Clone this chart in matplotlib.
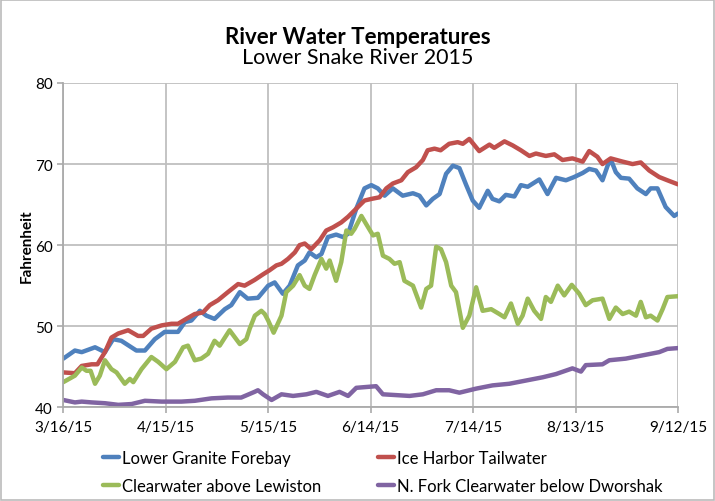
import pandas as pd
import matplotlib
matplotlib.use("Agg")
import matplotlib.pyplot as plt
import matplotlib.dates as mdates

plt.rcParams['font.family'] = ['Lato', 'DejaVu Sans']

start = pd.Timestamp('2015-03-16')

# days after 3/16/15
granite_days = [0, 3.4, 5.4, 9.3, 12.2, 14.6, 17, 21.4, 23.9, 26.8, 29.7, 33.6, 35.6, 37.5, 40, 41.9,
                44.3, 47.3, 49.2, 51.7, 54, 57, 60, 61.9, 64.3, 66.3, 68.7, 70.7, 72.1, 74.1, 75.6,
                77.5, 79.9, 81.9, 83.4, 85.8, 88.2, 90.2, 92.1, 94.1, 96.5, 99.4, 102.4, 104.3, 106.3,
                108.2, 110.2, 112.1, 114.1, 116, 118, 119.9, 121.8, 124.3, 125.7, 127.7, 129.6, 132.1,
                134, 136, 139.4, 141.8, 144.3, 147.2, 149.6, 152.1, 154, 156, 157.9, 159.4, 160.3,
                161.8, 163.3, 165.7, 168.1, 170.6, 172, 174, 176.4, 178.9, 180]
granite = [46.0, 47.0, 46.8, 47.4, 46.8, 48.4, 48.2, 47.0, 47.0, 48.4, 49.3, 49.3, 50.5, 50.7, 51.9, 51.3,
           50.9, 52.1, 52.6, 54.2, 53.4, 53.5, 55.0, 55.4, 54.0, 55.0, 57.5, 58.1, 59.1, 58.5, 58.9,
           61.0, 61.3, 61.0, 61.4, 64.5, 67.0, 67.4, 67.0, 66.1, 67.0, 66.1, 66.4, 66.1, 64.9,
           65.7, 66.3, 68.8, 69.8, 69.5, 67.4, 65.5, 64.6, 66.7, 65.7, 65.4, 66.2, 66.0,
           67.4, 67.2, 68.1, 66.3, 68.3, 68.0, 68.4, 68.9, 69.4, 69.2, 68.0, 69.8, 70.6,
           69.0, 68.3, 68.2, 67.0, 66.3, 67.0, 67.0, 64.7, 63.6, 63.9]

harbor_days = [0, 3.4, 5.4, 8.3, 10, 12.2, 14.1, 16.1, 19, 21.9, 23.4, 25.8, 28.8, 31.7, 33.6, 36, 38.5,
               40.9, 42.9, 45.3, 48.2, 51.2, 53.1, 56, 58.5, 60.4, 62.4, 63.9, 65.8, 67.8, 69.2, 70.7,
               72.6, 75.1, 77, 79, 81.4, 83.4, 85.8, 88.2, 90.2, 92.6, 94.6, 96.5, 99, 100.9, 103.3,
               105.3, 106.7, 108.7, 110.5, 113, 115.5, 117, 118.9, 121.8, 124.8, 126.2, 129.2, 131.6,
               134, 136.5, 138.4, 141.3, 143.8, 146.2, 149.1, 152.1, 154, 156.4, 157.9, 160.3, 163.8,
               166.7, 169.1, 171.6, 174.5, 176.9, 180]
harbor = [44.3, 44.2, 45.1, 45.3, 45.3, 46.8, 48.6, 49.1, 49.5, 48.8, 48.8, 49.7, 50.1, 50.3, 50.3, 50.9, 51.5,
          51.7, 52.6, 53.2, 54.2, 55.2, 55.0, 55.7, 56.4, 56.9, 57.5, 57.7, 58.3, 59.1, 60.0, 60.2,
          59.5, 60.6, 61.8, 62.2, 62.8, 63.5, 64.5, 65.5, 65.7, 65.9, 67.0, 67.6, 68.0, 69.0, 69.6,
          70.5, 71.7, 71.9, 71.7, 72.5, 72.7, 72.5, 73.1, 71.6, 72.4, 72.0, 72.8, 72.3,
          71.7, 71.0, 71.3, 71.0, 71.2, 70.5, 70.7, 70.3, 71.6, 70.9, 70.0, 70.7, 70.3,
          70.0, 70.2, 69.2, 68.4, 68.0, 67.5]

clear_days = [0, 3.4, 5.4, 6.8, 8, 9.3, 10.7, 12.2, 14.1, 15.6, 18, 19.5, 20.5, 22.9, 25.8, 27.8, 30.2,
              32.7, 35.1, 36.5, 38.5, 40.4, 42.4, 44.3, 45.8, 48.7, 51.7, 53.6, 54.6, 56.1, 58, 59,
              60, 61.6, 63.9, 65.3, 67.3, 69.2, 70.7, 72.1, 73.6, 75.6, 77, 78, 79.9, 81.4, 82.9,
              84.3, 85.3, 87.3, 88.7, 90.7, 92.1, 93.6, 95.5, 97, 98.5, 99.9, 102.4, 104.8, 106.3,
              107.7, 109.2, 110.6, 112.1, 113.6, 115, 117, 118.9, 120.9, 122.8, 125.3, 127.7, 129.2,
              131.1, 133.1, 134.5, 136, 137.9, 139.9, 141.3, 142.8, 144.8, 146.7, 148.9, 151.1, 153,
              155, 157.9, 159.9, 161.8, 163.8, 165.7, 167.7, 169.1, 170.6, 172, 174, 175.5, 176.9, 180]
clear = [43.1, 43.9, 44.9, 44.5, 44.5, 42.9, 43.9, 45.8, 44.7, 44.3, 42.9, 43.5, 43.1, 44.7, 46.2, 45.6, 44.7,
         45.6, 47.4, 47.6, 45.8, 46.0, 46.6, 48.2, 47.6, 49.5, 47.8, 48.4, 49.7, 51.3, 51.9, 51.5,
         50.7, 49.2, 51.3, 54.2, 55.0, 56.3, 55.0, 54.6, 56.3, 58.3, 57.1, 58.1, 55.6, 57.9, 61.8,
         61.4, 62.0, 63.6, 62.6, 61.2, 61.4, 58.7, 58.3, 57.7, 57.9, 55.6, 55.0, 52.3, 54.6,
         55.0, 59.8, 59.5, 57.9, 55.0, 54.2, 49.8, 51.3, 54.8, 51.9, 52.1, 51.5, 51.1,
         52.8, 50.3, 51.3, 53.4, 51.9, 50.9, 53.6, 53.0, 55.0, 53.8, 55.1, 54.0, 52.6,
         53.2, 53.4, 50.9, 52.3, 51.5, 51.8, 51.3, 53.0, 51.1, 51.3, 50.7, 52.1, 53.6, 53.7]

dworshak_days = [0, 3.4, 5.4, 8.3, 12.2, 16.1, 20, 23.9, 28.8, 34.6, 38.5, 43.4, 48.2, 52.1, 56, 57, 58.5,
                 61, 63.9, 67.3, 71.2, 74.1, 77.5, 80.9, 83.4, 85.8, 88.7, 91.6, 93.6, 97.5, 101.4,
                 105.3, 109.2, 113, 116, 120.9, 125.7, 130.6, 135.5, 140.4, 144.3, 149.1, 151.6, 153,
                 157.9, 159.9, 164.7, 169.6, 174.5, 176.9, 180]
dworshak = [40.9, 40.6, 40.7, 40.6, 40.5, 40.3, 40.4, 40.8, 40.7, 40.7, 40.8, 41.1, 41.2, 41.2, 41.9, 42.1, 41.6,
            40.9, 41.6, 41.4, 41.6, 41.9, 41.4, 41.9, 41.4, 42.4, 42.5, 42.6, 41.6, 41.5, 41.4,
            41.6, 42.1, 42.1, 41.8, 42.3, 42.7, 42.9, 43.3, 43.7, 44.1, 44.8, 44.4, 45.2,
            45.3, 45.8, 46.0, 46.4, 46.8, 47.2, 47.3]

series = [
    ('Lower Granite Forebay', granite_days, granite, '#4F81BD'),
    ('Ice Harbor Tailwater', harbor_days, harbor, '#C0504D'),
    ('Clearwater above Lewiston', clear_days, clear, '#9BBB59'),
    ('N. Fork Clearwater below Dworshak', dworshak_days, dworshak, '#8064A2'),
]

fig = plt.figure(figsize=(7.15, 5.02), dpi=100)
ax = fig.add_axes([0.0885, 0.1867, 0.8597, 0.646])

lines = {}
for name, d, v, c in series:
    x = start + pd.to_timedelta(d, unit='D')
    ln, = ax.plot(x, v, color=c, lw=3.2, solid_capstyle='round', solid_joinstyle='round', label=name)
    lines[name] = ln

ax.set_xlim(start, start + pd.Timedelta(days=180))
ax.set_ylim(40, 80)
ticks = [start + pd.Timedelta(days=30 * i) for i in range(7)]
ax.set_xticks(ticks)
ax.xaxis.set_major_formatter(mdates.DateFormatter('%-m/%-d/%y'))
ax.set_yticks([40, 50, 60, 70, 80])
ax.grid(True, color='#bfbfbf', lw=1.3)
ax.set_axisbelow(True)
for s in ['top', 'right']:
    ax.spines[s].set_visible(False)
for s in ['left', 'bottom']:
    ax.spines[s].set_color('#aaaaaa')
    ax.spines[s].set_linewidth(1.3)
ax.tick_params(axis='both', labelsize=11, color='#aaaaaa', length=4, width=1.2)
ax.tick_params(axis='x', pad=5)
ax.set_ylabel('Fahrenheit', fontsize=11, fontweight='bold', labelpad=1)

fig.text(0.5, 0.926, 'River Water Temperatures', ha='center', va='center', fontsize=16, fontweight='bold')
fig.text(0.5, 0.885, 'Lower Snake River 2015', ha='center', va='center', fontsize=15.5)

order = ['Lower Granite Forebay', 'Clearwater above Lewiston', 'Ice Harbor Tailwater',
         'N. Fork Clearwater below Dworshak']
fig.legend([lines[n] for n in order], order, ncol=2, loc='center', bbox_to_anchor=(0.535, 0.058),
           frameon=False, fontsize=12, handlelength=1.0, handletextpad=0.15, columnspacing=3.4,
           labelspacing=0.7)

fig.patches.append(plt.Rectangle((0.002, 0.002), 0.996, 0.996, transform=fig.transFigure,
                                 fill=False, edgecolor='#bbbbbb', lw=1.2))

fig.savefig('out.png', dpi=100)
